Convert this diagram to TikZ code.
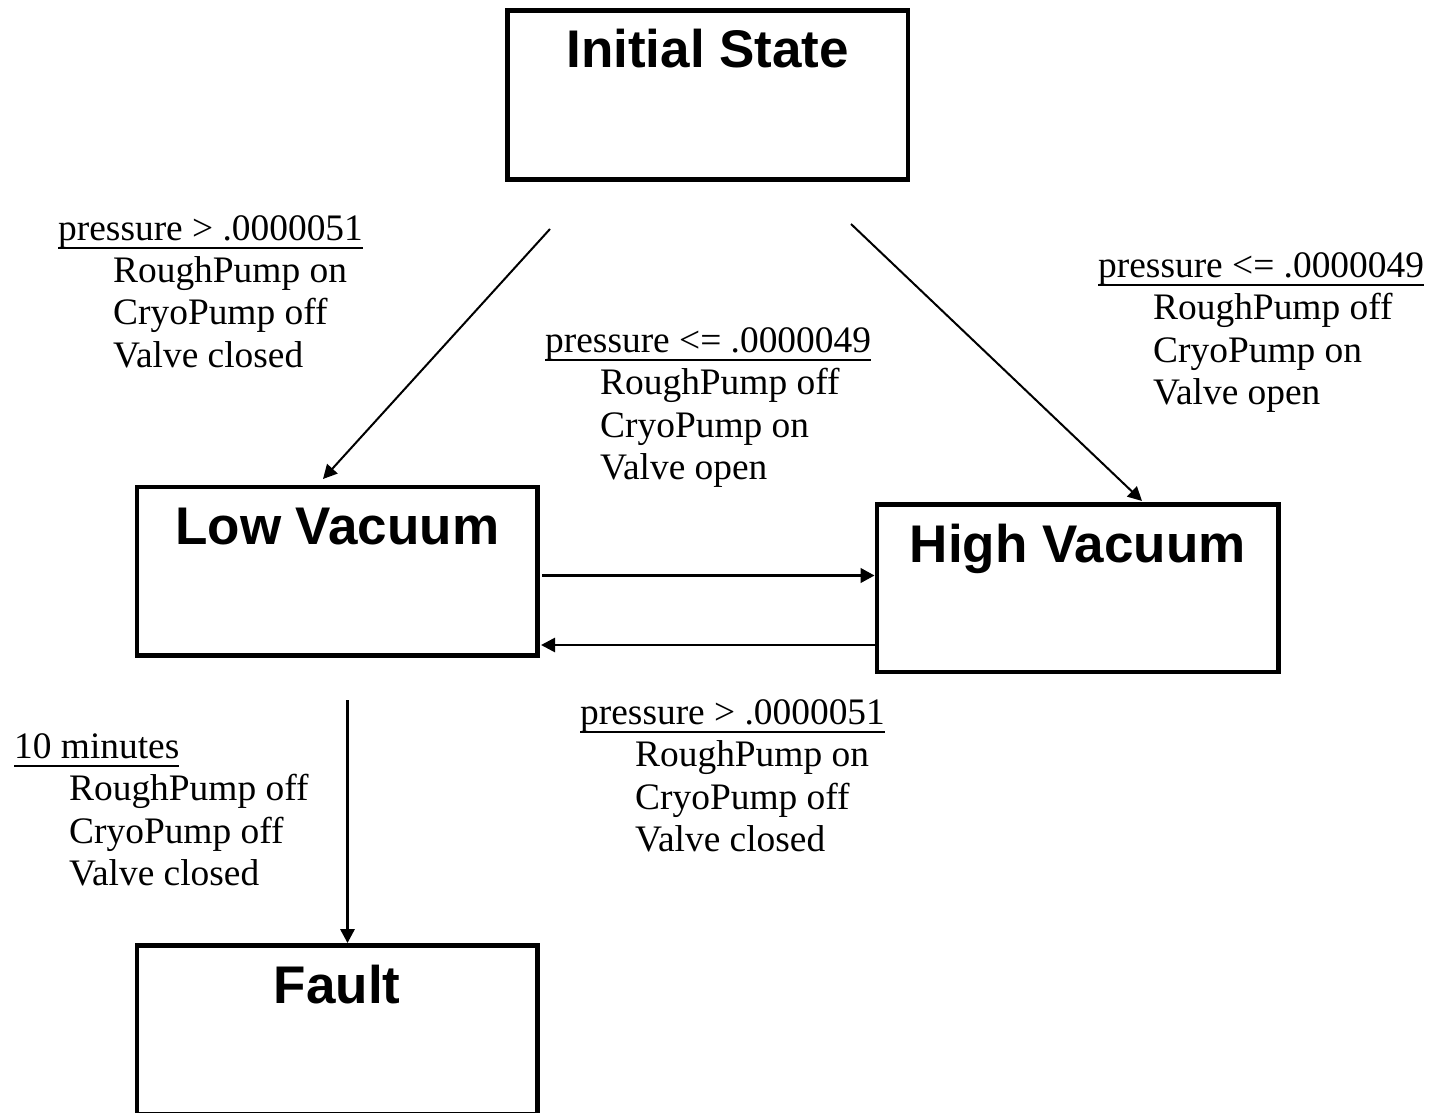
\documentclass[tikz,border=0pt]{standalone}
\usepackage{fontspec}
\setmainfont{Liberation Serif}
\newfontfamily\titlefont{Liberation Sans}
\usetikzlibrary{arrows.meta,calc}
\newcommand\ulfirst[1]{\setbox0=\hbox{#1}\rlap{\rule[-8.8pt]{\wd0}{1.8pt}}\box0}
\newcommand\condtext[4]{\vtop{\baselineskip=42.5pt\lineskiplimit=-100pt\lineskip=0pt
  \hbox{\ulfirst{#1}}\hbox{\hspace*{55pt}#2}\hbox{\hspace*{55pt}#3}\hbox{\hspace*{55pt}#4}}}
\tikzset{
  statebox/.style={draw, line width=4.7pt, shape=rectangle, inner sep=0pt, outer sep=0pt,
    minimum width=400.5pt, minimum height=168.5pt},
  titletext/.style={font=\titlefont\bfseries\fontsize{53}{60}\selectfont, anchor=base, inner sep=0pt},
  condlabel/.style={font=\fontsize{37.4}{42.5}\selectfont, anchor=base west, inner sep=0pt},
  trans/.style={-{Triangle[length=14pt,width=14pt]}, line width=2pt},
}
\begin{document}
\begin{tikzpicture}[x=1pt,y=-1pt]
\useasboundingbox (0,0) rectangle (1430,1113);
\clip (0,0) rectangle (1430,1113);
\fill[white] (0,0) rectangle (1430,1113);

% states
\node[statebox, minimum height=169pt] (init) at (707.75,95) {};
\node[titletext] (initT) at ($(init.north)+(0,57.5)$) {Initial State};

\node[statebox] (low) at (337.25,571.25) {};
\node[titletext] (lowT) at ($(low.north)+(0,57.5)$) {Low Vacuum};

\node[statebox, minimum width=401.5pt, minimum height=167.5pt] (high) at (1077.75,588.25) {};
\node[titletext] (highT) at ($(high.north)+(0,57.5)$) {High Vacuum};

\node[statebox, minimum height=169pt] (fault) at (337.25,1030) {};
\node[titletext] (faultT) at ($(fault.north)+(0,57.5)$) {Fault};

% transition labels
\node[condlabel] (c1) at (58,240) {\condtext{pressure > .0000051}{RoughPump on}{CryoPump off}{Valve closed}};
\node[condlabel] (c2) at (545,352) {\condtext{pressure <= .0000049}{RoughPump off}{CryoPump on}{Valve open}};
\node[condlabel] (c3) at (1098,277) {\condtext{pressure <= .0000049}{RoughPump off}{CryoPump on}{Valve open}};
\node[condlabel] (c4) at (580,724) {\condtext{pressure > .0000051}{RoughPump on}{CryoPump off}{Valve closed}};
\node[condlabel] (c5) at (14,758) {\condtext{10 minutes}{RoughPump off}{CryoPump off}{Valve closed}};

% connectors
\coordinate (s1) at (550,229);
\coordinate (e1) at (323,479);
\draw[trans] (s1) -- (e1);

\coordinate (s2) at (851,224);
\coordinate (e2) at (1142,501);
\draw[trans] (s2) -- (e2);

\coordinate (lh) at (542,575.5);
\draw[trans, line width=3.5pt, shorten >=2.3pt] (lh) -- (high.west |- lh);

\coordinate (hl) at (541,645);
\draw[trans, line width=2.7pt] (high.west |- hl) -- (hl);

\coordinate (lf) at (347.5,700);
\draw[trans, line width=3pt, shorten >=2.4pt] (lf) -- (lf |- fault.north);
\end{tikzpicture}
\end{document}
